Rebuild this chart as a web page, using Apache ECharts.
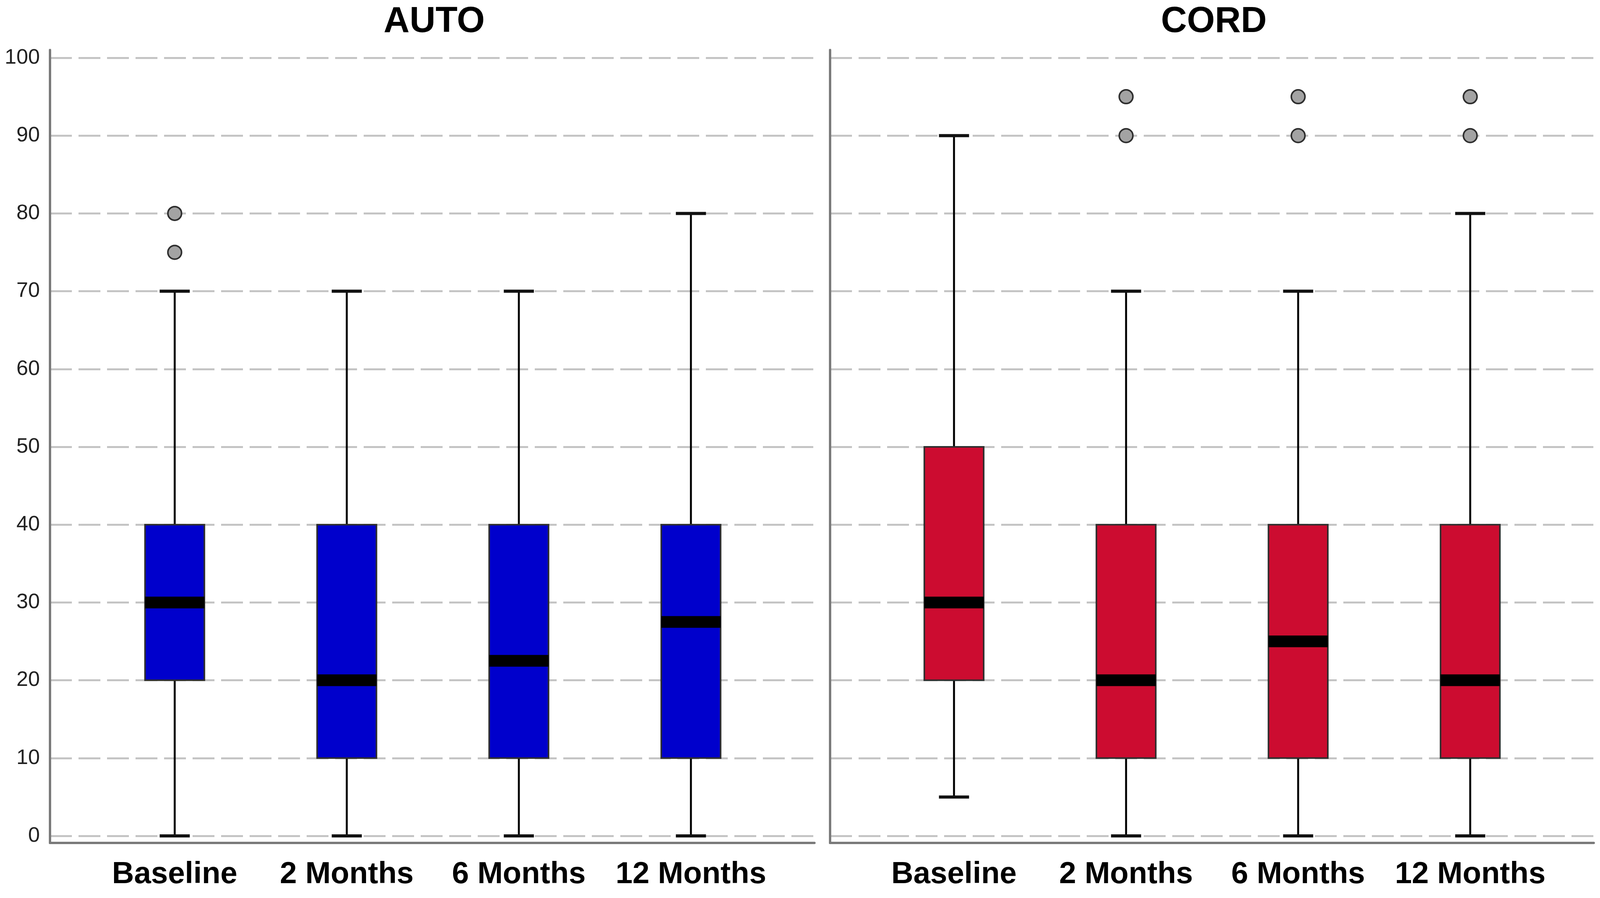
<!DOCTYPE html>
<html>
<head>
<meta charset="utf-8">
<script src="https://cdn.jsdelivr.net/npm/echarts@6/dist/echarts.min.js"></script>
<style>
html,body{margin:0;padding:0;background:#fff;}
#c{width:4100px;height:2299px;}
</style>
</head>
<body>
<div id="c"></div>
<script>
// ---- data ----
const categories = ['Baseline', '2 Months', '6 Months', '12 Months'];
const panelTitles = ['AUTO', 'CORD'];
const yTicks = [0, 10, 20, 30, 40, 50, 60, 70, 80, 90, 100];
// [min, q1, median, q3, max]
const autoBoxes = [
  [0, 20, 30, 40, 70],
  [0, 10, 20, 40, 70],
  [0, 10, 22.5, 40, 70],
  [0, 10, 27.5, 40, 80]
];
const cordBoxes = [
  [5, 20, 30, 50, 90],
  [0, 10, 20, 40, 70],
  [0, 10, 25, 40, 70],
  [0, 10, 20, 40, 80]
];
// [category index, value]
const autoOutliers = [[0, 75], [0, 80]];
const cordOutliers = [[1, 90], [1, 95], [2, 90], [2, 95], [3, 90], [3, 95]];
const autoColor = '#0000CC';
const cordColor = '#CC0C30';

// ---- layout ----
const FONT = '"Liberation Sans", Arial, sans-serif';
const panels = [
  { frameLeft: 128, frameWidth: 1957, catLeft: 227, catWidth: 1762, labels: true },
  { frameLeft: 2125, frameWidth: 1955, catLeft: 2222, catWidth: 1762, labels: false }
];
const plotTop = 148, plotBottom = 2140;   // y of 100 and 0
const frameTop = 128, frameBottom = 2158;

function makeRender(color) {
  return function (params, api) {
    const x = api.value(0);
    const lo = api.coord([x, api.value(1)]);
    const q1 = api.coord([x, api.value(2)]);
    const med = api.coord([x, api.value(3)]);
    const q3 = api.coord([x, api.value(4)]);
    const hi = api.coord([x, api.value(5)]);
    const band = api.size([1, 0])[0];
    const bw = band * 0.345;
    const cw = band * 0.175;
    const cx = lo[0];
    return {
      type: 'group',
      children: [
        { type: 'line', shape: { x1: cx, y1: lo[1], x2: cx, y2: q1[1] }, style: { stroke: '#000', lineWidth: 5 } },
        { type: 'line', shape: { x1: cx, y1: q3[1], x2: cx, y2: hi[1] }, style: { stroke: '#000', lineWidth: 5 } },
        { type: 'line', shape: { x1: cx - cw / 2, y1: lo[1], x2: cx + cw / 2, y2: lo[1] }, style: { stroke: '#111', lineWidth: 8 } },
        { type: 'line', shape: { x1: cx - cw / 2, y1: hi[1], x2: cx + cw / 2, y2: hi[1] }, style: { stroke: '#111', lineWidth: 8 } },
        { type: 'rect', shape: { x: cx - bw / 2, y: q3[1], width: bw, height: q1[1] - q3[1] }, style: { fill: color, stroke: '#2e2e2e', lineWidth: 4 } },
        { type: 'rect', shape: { x: cx - bw / 2, y: med[1] - 15, width: bw, height: 30 }, style: { fill: '#000' } }
      ]
    };
  };
}

const grid = [], xAxis = [], yAxis = [], series = [], title = [];
panels.forEach((p, i) => {
  const base = i * 3;
  grid.push({ left: p.frameLeft, width: p.frameWidth, top: frameTop, height: frameBottom - frameTop });
  grid.push({ left: p.frameLeft, width: p.frameWidth, top: plotTop, height: plotBottom - plotTop });
  grid.push({ left: p.catLeft, width: p.catWidth, top: plotTop, height: plotBottom - plotTop });

  const axisLineStyle = { color: '#7a7a7a', width: 6 };
  xAxis.push({ type: 'value', gridIndex: base, min: 0, max: 1, axisLine: { show: true, onZero: false, lineStyle: axisLineStyle }, axisTick: { show: false }, axisLabel: { show: false }, splitLine: { show: false } });
  yAxis.push({ type: 'value', gridIndex: base, min: 0, max: 1, axisLine: { show: true, onZero: false, lineStyle: axisLineStyle }, axisTick: { show: false }, axisLabel: { show: false }, splitLine: { show: false } });

  xAxis.push({ type: 'value', gridIndex: base + 1, min: 0, max: 1, show: false });
  yAxis.push({
    type: 'value', gridIndex: base + 1, min: yTicks[0], max: yTicks[yTicks.length - 1], interval: 10,
    axisLine: { show: false }, axisTick: { show: false },
    axisLabel: { show: p.labels, fontSize: 54, color: '#222', fontFamily: FONT, margin: 26 },
    splitLine: { show: true, lineStyle: { type: [56, 17], color: '#c4c4c4', width: 5 } }
  });

  xAxis.push({
    type: 'category', gridIndex: base + 2, data: categories, boundaryGap: true,
    axisLine: { show: false }, axisTick: { show: false },
    axisLabel: { fontSize: 78, fontWeight: 'bold', color: '#000', fontFamily: FONT, margin: 60, interval: 0 }
  });
  yAxis.push({ type: 'value', gridIndex: base + 2, min: 0, max: 100, show: false });

  const boxes = i === 0 ? autoBoxes : cordBoxes;
  const outs = i === 0 ? autoOutliers : cordOutliers;
  const color = i === 0 ? autoColor : cordColor;
  series.push({
    type: 'custom', xAxisIndex: base + 2, yAxisIndex: base + 2, clip: false,
    renderItem: makeRender(color),
    encode: { x: 0, y: [1, 2, 3, 4, 5] },
    data: boxes.map((b, k) => [k].concat(b)),
    z: 3
  });
  series.push({
    type: 'scatter', xAxisIndex: base + 2, yAxisIndex: base + 2,
    symbol: 'circle', symbolSize: 35,
    itemStyle: { color: '#a3a3a3', borderColor: '#2e2e2e', borderWidth: 4, opacity: 1 },
    data: outs, z: 4
  });

  title.push({
    text: panelTitles[i], left: p.frameLeft + p.frameWidth / 2, top: 6, textAlign: 'center',
    textStyle: { fontSize: 92, fontWeight: 'bold', color: '#000', fontFamily: FONT }
  });
});

const chart = echarts.init(document.getElementById('c'), null, { renderer: 'canvas' });
chart.setOption({
  backgroundColor: '#fff',
  animation: false,
  title, grid, xAxis, yAxis, series
});
</script>
</body>
</html>
